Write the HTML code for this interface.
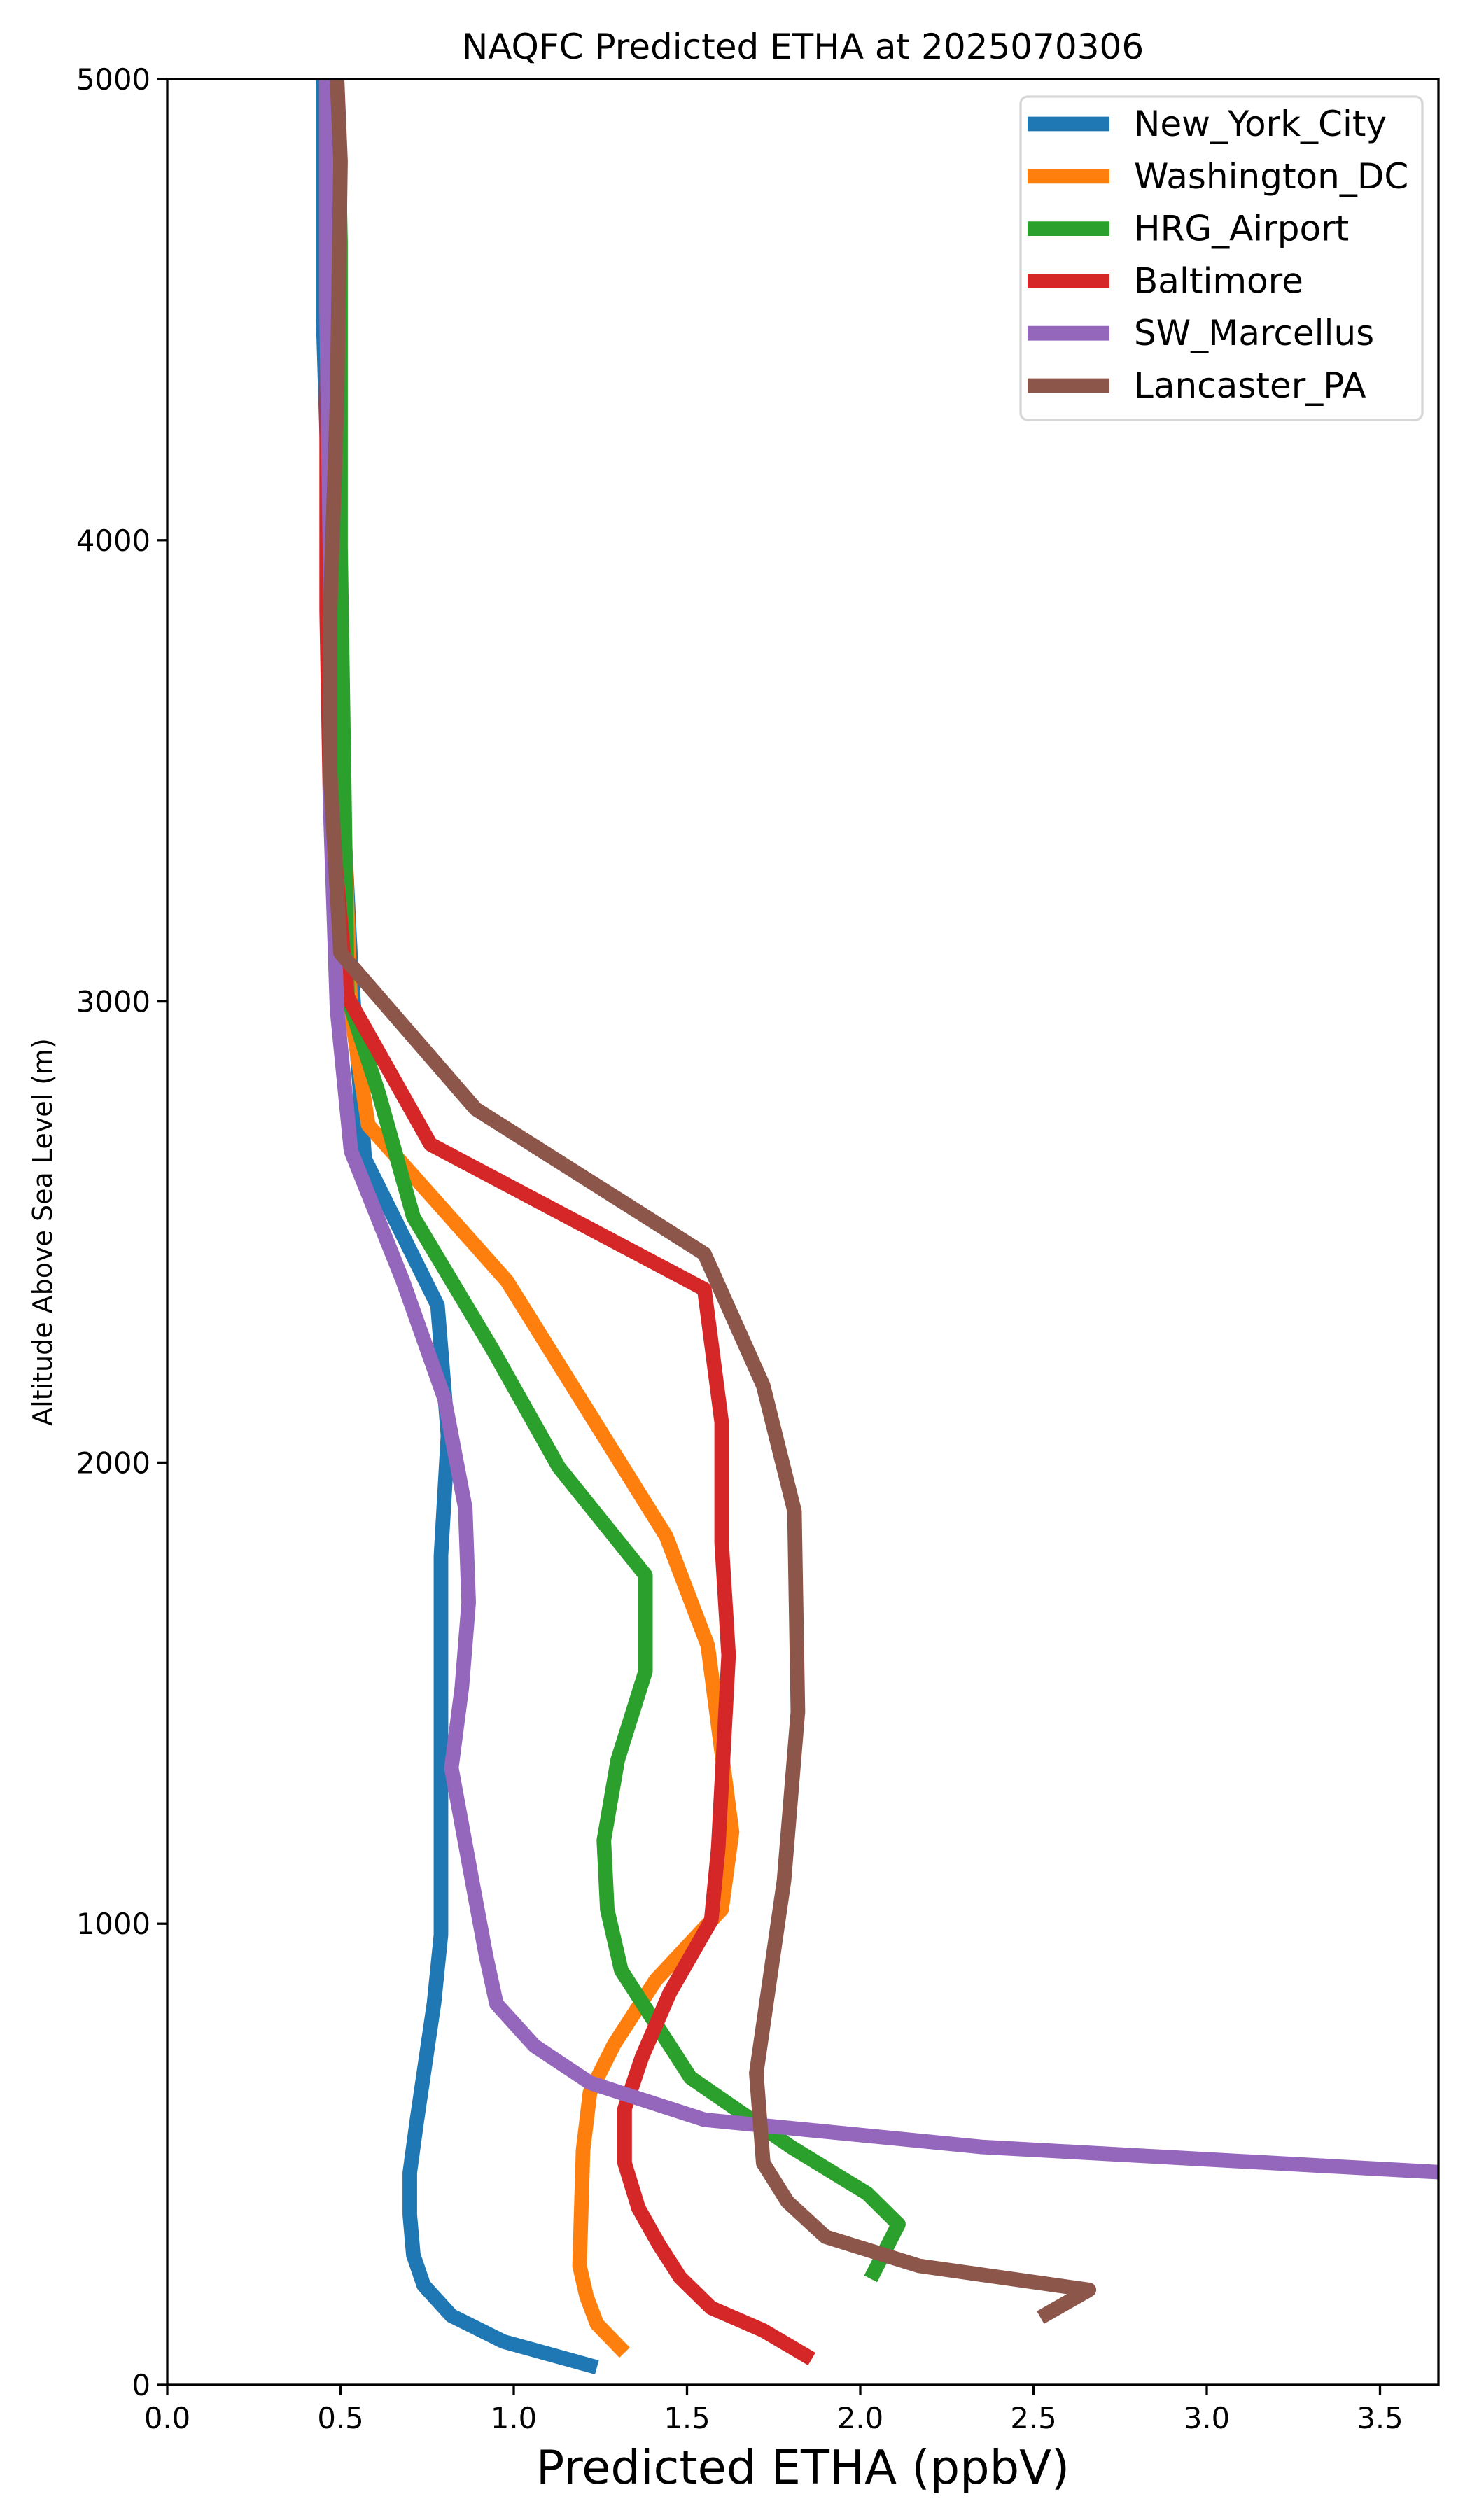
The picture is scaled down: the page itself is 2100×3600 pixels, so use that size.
<!DOCTYPE html>
<html><head><meta charset="utf-8"><style>
html,body{margin:0;padding:0;background:#fff}
svg{display:block;font-family:"DejaVu Sans","Liberation Sans",sans-serif}
</style></head><body>
<svg id="chart" width="2100" height="3600" viewBox="0 0 2100 3600">
<defs><clipPath id="plotclip"><rect x="239" y="113" width="1816" height="3294"/></clipPath></defs>
<g id="lines" clip-path="url(#plotclip)"></g>
<rect x="239" y="113" width="1816" height="3294" fill="none" stroke="#000" stroke-width="3.3"/>
<g id="xticks"></g>
<g id="yticks"></g>
<text x="1147" y="84" font-size="50" text-anchor="middle">NAQFC Predicted ETHA at 2025070306</text>
<text x="1147" y="3548" font-size="67" text-anchor="middle">Predicted ETHA (ppbV)</text>
<text x="0" y="0" font-size="38" text-anchor="middle" transform="translate(74,1760) rotate(-90)">Altitude Above Sea Level (m)</text>
<g id="legend"></g>
</svg>
<script>
const seriesNames = ["New_York_City","Washington_DC","HRG_Airport","Baltimore","SW_Marcellus","Lancaster_PA"];
const seriesColors = ["#1f77b4","#ff7f0e","#2ca02c","#d62728","#9467bd","#8c564b"];
const nycX = [1.24,0.97,0.82,0.74,0.71,0.70,0.70,0.72,0.77,0.79,0.79,0.79,0.79,0.81,0.78,0.57,0.53,0.50,0.47,0.45,0.45];
const nycAlt = [38,94,150,216,282,369,460,571,829,976,1164,1338,1798,2059,2341,2659,3080,3533,3986,4474,5003];
const dcX = [1.32,1.24,1.21,1.19,1.20,1.22,1.29,1.41,1.60,1.63,1.56,1.44,1.20,0.98,0.58,0.53,0.51,0.48,0.46,0.46];
const dcAlt = [70,132,192,258,509,634,739,878,1031,1199,1603,1840,2129,2394,2732,2976,3400,3900,4500,5003];
const hrgX = [2.03,2.11,2.02,1.80,1.51,1.31,1.27,1.26,1.30,1.38,1.38,1.13,0.94,0.71,0.61,0.52,0.51,0.50,0.50,0.49];
const hrgAlt = [230,348,415,516,666,899,1031,1181,1355,1547,1756,1990,2244,2533,2801,3010,3498,3986,4648,5003];
const balX = [1.86,1.72,1.57,1.48,1.42,1.36,1.32,1.32,1.37,1.45,1.57,1.59,1.62,1.60,1.60,1.55,0.76,0.52,0.47,0.46,0.46,0.47];
const balAlt = [56,118,167,233,303,383,481,599,711,850,1007,1164,1582,1826,2087,2376,2690,3010,3429,3847,4300,5003];
const swmX = [3.70,2.35,1.55,1.22,1.06,0.95,0.92,0.89,0.82,0.85,0.87,0.86,0.80,0.68,0.53,0.49,0.47,0.47,0.46,0.46];
const swmAlt = [460,516,575,655,735,826,930,1052,1338,1512,1697,1902,2139,2394,2676,2983,3429,3951,4474,5003];
const lanX = [2.52,2.66,2.17,1.90,1.79,1.72,1.70,1.74,1.78,1.82,1.81,1.72,1.55,0.89,0.50,0.47,0.47,0.49,0.50,0.49];
const lanAlt = [146,206,258,321,397,481,676,885,1094,1460,1895,2167,2453,2767,3105,3498,3847,4300,4822,5003];
const xTickLabels = ["0.0","0.5","1.0","1.5","2.0","2.5","3.0","3.5"];
const yTickLabels = ["0","1000","2000","3000","4000","5000"];

const NS="http://www.w3.org/2000/svg";
const X0=239, XPU=495, Y0=3407, YPU=3294/5000;
function xs(v){return X0+v*XPU;}
function ys(a){return Y0-a*YPU;}
function mk(tag,attrs,parent){const e=document.createElementNS(NS,tag);for(const k in attrs)e.setAttribute(k,attrs[k]);parent.appendChild(e);return e;}

const allX=[nycX,dcX,hrgX,balX,swmX,lanX];
const allA=[nycAlt,dcAlt,hrgAlt,balAlt,swmAlt,lanAlt];
const lg=document.getElementById('lines');
allX.forEach((xv,i)=>{
  const pts=xv.map((v,j)=>xs(v).toFixed(1)+","+ys(allA[i][j]).toFixed(1)).join(" ");
  const pl=mk('polyline',{points:pts,fill:"none",stroke:seriesColors[i],"stroke-width":"20.8","stroke-linejoin":"round","stroke-linecap":"butt"},lg);
  
  
});

const xt=document.getElementById('xticks');
xTickLabels.forEach(t=>{
  const x=xs(parseFloat(t));
  const ln=mk('line',{x1:x,x2:x,y1:Y0,y2:Y0+14.6,stroke:"#000","stroke-width":"3.3"},xt);
  
  
  const tx=mk('text',{x:x,y:Y0+62,"font-size":"41.7","text-anchor":"middle"},xt);
  tx.textContent=t;
  
  
});
const yt=document.getElementById('yticks');
yTickLabels.forEach(t=>{
  const y=ys(parseFloat(t));
  const ln=mk('line',{x1:X0-14.6,x2:X0,y1:y,y2:y,stroke:"#000","stroke-width":"3.3"},yt);
  
  
  const tx=mk('text',{x:X0-24,y:y+15,"font-size":"41.7","text-anchor":"end"},yt);
  tx.textContent=t;
  
  
});

const lgd=document.getElementById('legend');
const box=mk('rect',{x:1458,y:138,width:574,height:462,rx:10,fill:"#fff","fill-opacity":"0.8",stroke:"#d6d6d6","stroke-width":"3.3"},lgd);


seriesNames.forEach((n,i)=>{
  const y=177+i*74.8;
  const ln=mk('line',{x1:1468,x2:1585,y1:y,y2:y,stroke:seriesColors[i],"stroke-width":"20.8"},lgd);
  
  
  const tx=mk('text',{x:1620,y:y+17,"font-size":"50"},lgd);
  tx.textContent=n;
  
  
});
</script>
</body></html>
